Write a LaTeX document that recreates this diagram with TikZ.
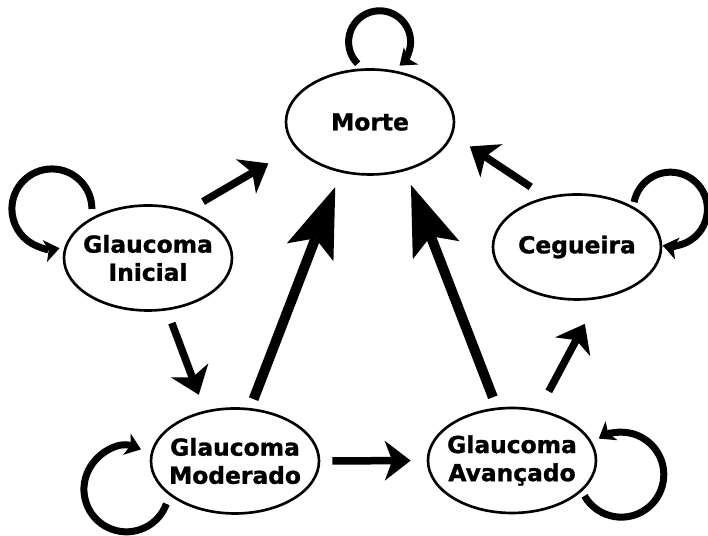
\documentclass[tikz,border=0pt]{standalone}
\usepackage{fontspec}
\setmainfont{DejaVu Sans}[BoldFeatures={FakeBold=1.2}]
\usetikzlibrary{arrows.meta,shapes.geometric}

\tikzset{
	state/.style={draw=black, line width=1.5pt, ellipse, minimum width=3.36cm, minimum height=2.1cm, inner xsep=-0.2cm, inner ysep=0pt, align=center, font=\bfseries\fontsize{13.3}{16}\selectfont},
	move/.style={line width=0.15cm, -{Stealth[length=0.52cm, width=0.8cm, inset=0.15cm, line width=0pt]}},
	bigmove/.style={line width=0.2cm, -{Stealth[length=1.4cm, width=1.0cm, inset=0.3cm, line width=0pt]}},
	selfloop/.style={line width=0.14cm, -{Stealth[length=0.3cm, width=0.45cm, inset=0.08cm, line width=0pt]}}
}

\begin{document}
\begin{tikzpicture}
	\useasboundingbox (0,0) rectangle (14.16,10.72);
	
	\node[state] (morte) at (7.40,8.28) {Morte};
	\node[state] (ini) at (2.96,5.56) {Glaucoma\\Inicial};
	\node[state] (mod) at (4.70,1.50) {Glaucoma\\Moderado};
	\node[state] (ava) at (10.24,1.51) {Glaucoma\\Avançado};
	\node[state] (ceg) at (11.54,5.78) {Cegueira};
	
	
	\draw[move, shorten <=0.35cm, shorten >=0.62cm] (ini.50) -- (morte.199);
	\draw[move, shorten <=0.27cm, shorten >=0.34cm] (ini.290) -- (mod.121);
	\draw[move, shorten <=0.24cm, shorten >=0.32cm] (mod.east) -- (ava.west);
	\draw[move, shorten <=0.41cm, shorten >=0.56cm] (ava.62) -- (ceg.292);
	\draw[move, shorten <=0.36cm, shorten >=0.41cm] (ceg.122) -- (morte.351);
	
	\draw[bigmove, shorten <=0.19cm, shorten >=0.31cm] (mod.74) -- (morte.240);
	\draw[bigmove, shorten <=0.22cm, shorten >=0.30cm] (ava.106) -- (morte.306);
	
	
	\draw[selfloop] ([shift={(0,0.1)}]morte.103) arc[start angle=225, end angle=-50, radius=0.62cm];
	\draw[selfloop] ([shift={(-0.12,0.11)}]ini.139) arc[start angle=0, end angle=281, radius=0.8cm];
	\draw[selfloop] ([shift={(-0.16,-0.1)}]mod.212) arc[start angle=-20, end angle=-290, radius=0.85cm];
	\draw[selfloop] ([shift={(0.1,-0.05)}]ava.334) arc[start angle=210, end angle=482, radius=0.85cm];
	\draw[selfloop] ([shift={(0.07,0.06)}]ceg.38) arc[start angle=169, end angle=-102, radius=0.74cm];
	
\end{tikzpicture}
\end{document}
